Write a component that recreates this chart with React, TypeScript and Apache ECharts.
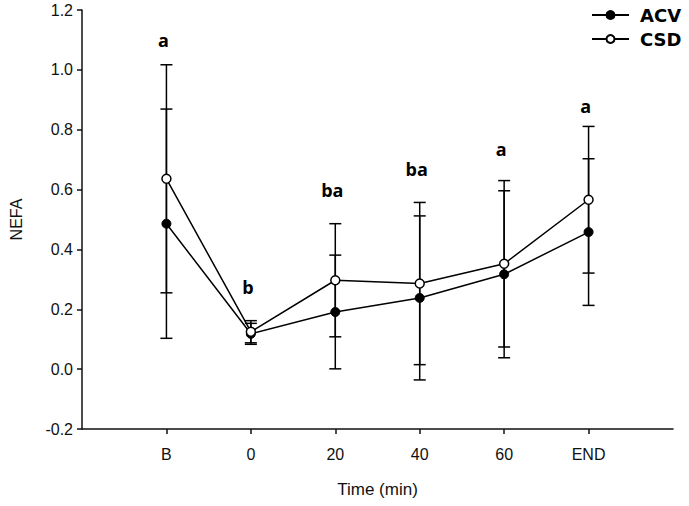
import React, { useEffect, useRef } from "react";
import * as echarts from "echarts";

const categories = ["B", "0", "20", "40", "60", "END"];
const acvMean = [0.486, 0.118, 0.191, 0.238, 0.317, 0.458];
const acvSD = [0.383, 0.035, 0.19, 0.274, 0.279, 0.245];
const csdMean = [0.636, 0.125, 0.297, 0.286, 0.352, 0.566];
const csdSD = [0.381, 0.037, 0.189, 0.271, 0.278, 0.245];
const letters = ["a", "b", "ba", "ba", "a", "a"];
const letterY = [1.097, 0.273, 0.597, 0.667, 0.733, 0.877];
const yTicks = { min: -0.2, max: 1.2, interval: 0.2 };

export default function App() {
  const ref = useRef<HTMLDivElement>(null);
  useEffect(() => {
    document.body.style.margin = "0";
    const chart = echarts.init(ref.current!, null, { renderer: "svg" });
    const idx = categories.map((_, i) => i);
    const errData = (m: number[], s: number[]) =>
      m.map((v, i) => [i, +(v - s[i]).toFixed(3), +(v + s[i]).toFixed(3)]);
    const errSeries = (name: string, m: number[], s: number[]) => ({
      type: "custom",
      name: name + "-err",
      z: 1,
      renderItem: (params: any, api: any) => {
        const x = api.value(0);
        const lo = api.coord([x, api.value(1)]);
        const hi = api.coord([x, api.value(2)]);
        const w = 6;
        const st = { stroke: "#000", lineWidth: 1.5 };
        return {
          type: "group",
          children: [
            { type: "line", shape: { x1: hi[0], y1: hi[1], x2: lo[0], y2: lo[1] }, style: st },
            { type: "line", shape: { x1: hi[0] - w, y1: hi[1], x2: hi[0] + w, y2: hi[1] }, style: st },
            { type: "line", shape: { x1: lo[0] - w, y1: lo[1], x2: lo[0] + w, y2: lo[1] }, style: st },
          ],
        };
      },
      encode: { x: 0, y: [1, 2] },
      data: errData(m, s),
      silent: true,
    });
    chart.setOption({
      animation: false,
      grid: { left: 81, right: 16, top: 10, bottom: 77 },
      legend: {
        orient: "vertical",
        left: 586,
        top: 1,
        itemWidth: 37,
        itemHeight: 10,
        itemGap: 6,
        data: ["ACV", "CSD"],
        textStyle: {
          fontFamily: "DejaVu Sans",
          fontWeight: "bold",
          fontSize: 18,
          color: "#000",
          lineHeight: 17,
          padding: [0, 0, 0, 6],
        },
      },
      xAxis: {
        type: "value",
        min: -1,
        max: 6,
        splitLine: { show: false },
        axisLine: { onZero: false, lineStyle: { color: "#111", width: 1.5 } },
        axisTick: { customValues: idx, length: 5, lineStyle: { color: "#111", width: 1.5 } },
        axisLabel: {
          customValues: idx,
          formatter: (v: number) => categories[v] ?? "",
          margin: 17,
          fontFamily: "Liberation Sans",
          fontSize: 16,
          color: "#111",
        },
        name: "Time (min)",
        nameLocation: "middle",
        nameGap: 52,
        nameTextStyle: { fontFamily: "Liberation Sans", fontSize: 17, color: "#111" },
      },
      yAxis: {
        type: "value",
        min: yTicks.min,
        max: yTicks.max,
        interval: yTicks.interval,
        splitLine: { show: false },
        axisLine: { show: true, onZero: false, lineStyle: { color: "#111", width: 1.5 } },
        axisTick: { show: true, length: 5, lineStyle: { color: "#111", width: 1.5 } },
        axisLabel: {
          formatter: (v: number) => v.toFixed(1),
          margin: 9,
          fontFamily: "Liberation Sans",
          fontSize: 16,
          color: "#111",
        },
        name: "NEFA",
        nameLocation: "middle",
        nameGap: 58,
        nameTextStyle: { fontFamily: "Liberation Sans", fontSize: 16, color: "#111" },
      },
      series: [
        errSeries("ACV", acvMean, acvSD),
        errSeries("CSD", csdMean, csdSD),
        {
          type: "line",
          name: "ACV",
          z: 3,
          data: acvMean.map((v, i) => [i, v]),
          symbol: "circle",
          symbolSize: 9,
          lineStyle: { color: "#000", width: 1.5 },
          itemStyle: { color: "#000", borderColor: "#000", borderWidth: 1 },
        },
        {
          type: "line",
          name: "CSD",
          z: 3,
          data: csdMean.map((v, i) => [i, v]),
          symbol: "circle",
          symbolSize: 9,
          lineStyle: { color: "#000", width: 1.5 },
          itemStyle: { color: "#fff", borderColor: "#000", borderWidth: 1.5 },
        },
        {
          type: "scatter",
          name: "letters",
          z: 4,
          symbolSize: 1,
          itemStyle: { color: "#000", opacity: 0 },
          silent: true,
          data: letters.map((t, i) => [i, letterY[i], t]),
          label: {
            show: true,
            position: "top",
            distance: 0,
            verticalAlign: "middle",
            align: "center",
            offset: [-3, 0],
            formatter: (p: any) => p.value[2],
            fontFamily: "Open Sans",
            fontWeight: "bold",
            fontSize: 18,
            color: "#000",
            opacity: 1,
            textBorderWidth: 0,
          },
        },
      ],
    });
    return () => chart.dispose();
  }, []);
  return <div ref={ref} style={{ width: 689, height: 506 }} />;
}
